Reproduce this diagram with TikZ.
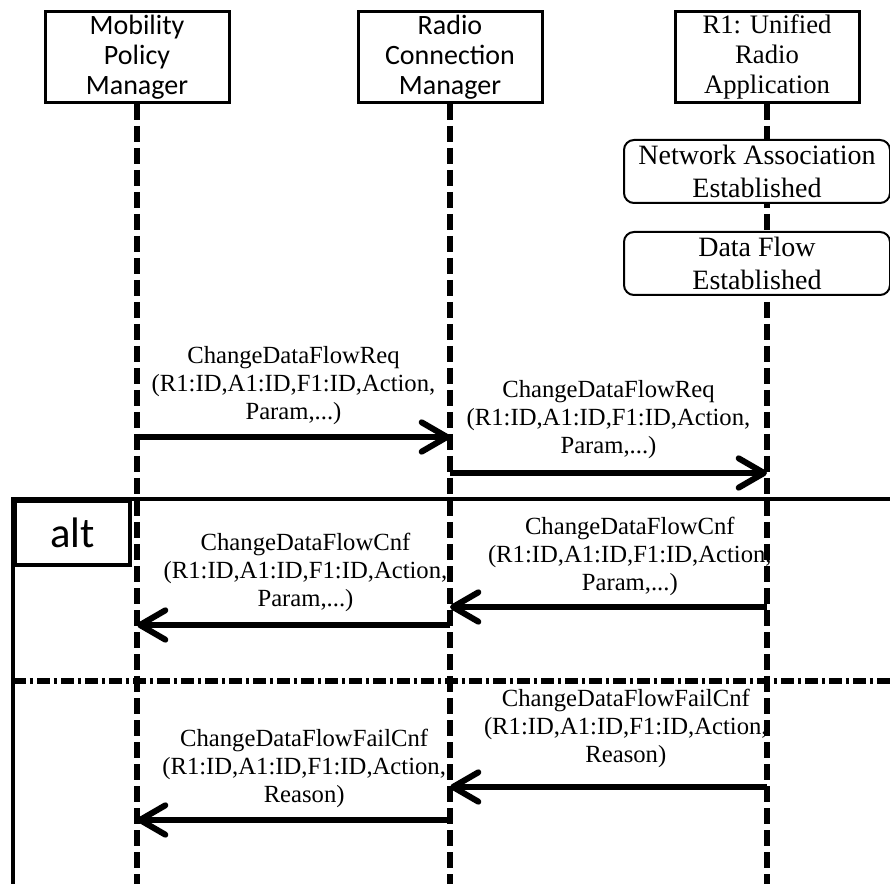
\documentclass[tikz,border=0pt]{standalone}
\usepackage{fontspec}
\setmainfont{Liberation Serif}
\newfontfamily\calfont{Carlito}
\usepackage{tikz}
\usetikzlibrary{arrows.meta,positioning,calc}
\tikzset{
  headbox/.style={draw,fill=white,line width=2.25pt,minimum width=138pt,minimum height=68.25pt,inner sep=0pt,align=center},
  statebox/.style={draw,fill=white,line width=1.5pt,rounded corners=7.5pt,minimum width=199.5pt,minimum height=47.25pt,inner sep=0pt,align=center,font=\fontsize{21pt}{24.5pt}\selectfont},
  lifeline/.style={line width=4.2pt,dash pattern=on 12pt off 4.5pt},
  msg/.style={line width=4.5pt,-{Straight Barb[length=19pt,width=22pt,round]}},
  msglabel/.style={align=center,inner sep=0pt,font=\fontsize{18.5pt}{21pt}\selectfont},
  altline/.style={line width=3pt},
  sepline/.style={line width=4.2pt,dash pattern=on 9.4pt off 3pt on 2.6pt off 3pt}
}

\begin{document}
\begin{tikzpicture}[x=0.75pt,y=-0.75pt]
  \useasboundingbox (0,0) rectangle (890,884);
  \clip (0,0) rectangle (890,884);
  % alt frame
  \coordinate (fr1) at (13,499);
  \coordinate (fr2) at (905,905);
  \coordinate (sep) at (0,681);
  \draw[altline] (fr1) rectangle (fr2);
  \draw[sepline] (fr1 |- sep) -- (fr2 |- sep);
  \node[draw,fill=white,altline,anchor=north west,minimum width=86.25pt,minimum height=48pt,inner sep=0pt,
    font=\calfont\fontsize{32pt}{34pt}\selectfont] (alt) at (fr1) {alt};
  % heads and lifelines
  \node[headbox,font=\calfont\fontsize{21pt}{22.5pt}\selectfont] (mpm) at (137,57) {Mobility\\Policy\\Manager};
  \node[headbox,font=\calfont\fontsize{21pt}{22.5pt}\selectfont] (rcm) at (450,57) {Radio\\Connection\\Manager};
  \node[headbox,font=\fontsize{20pt}{22.5pt}\selectfont] (ura) at (767,57) {R1: Unified\\Radio\\Application};
  \coordinate (bot) at (0,905);
  \foreach \n in {mpm,rcm,ura}
    \draw[lifeline] (\n.south) -- (\n.south |- bot);
  % states of R1
  \node[statebox] (assoc) at (757,171.5) {Network Association\\Established};
  \node[statebox] (flow) at (757,263.5) {Data Flow\\Established};
  % messages
  \coordinate (m1) at (0,437);
  \coordinate (m2) at (0,473);
  \coordinate (m3) at (0,607);
  \coordinate (m4) at (0,625);
  \coordinate (m5) at (0,787);
  \coordinate (m6) at (0,820);
  \draw[msg] (mpm |- m1) -- (rcm |- m1)
    node[msglabel,midway,above=7.3pt] (req1) {ChangeDataFlowReq\\(R1:ID,A1:ID,F1:ID,Action,\\Param,...)};
  \draw[msg] (rcm |- m2) -- (ura |- m2)
    node[msglabel,midway,above=8.8pt] (req2) {ChangeDataFlowReq\\(R1:ID,A1:ID,F1:ID,Action,\\Param,...)};
  \draw[msg] (ura |- m3) -- (rcm |- m3)
    node[msglabel,midway,above=6.5pt,xshift=16pt] (cnf1) {ChangeDataFlowCnf\\(R1:ID,A1:ID,F1:ID,Action,\\Param,...)};
  \draw[msg] (rcm |- m4) -- (mpm |- m4)
    node[msglabel,midway,above=8pt,xshift=9pt] (cnf2) {ChangeDataFlowCnf\\(R1:ID,A1:ID,F1:ID,Action,\\Param,...)};
  \draw[msg] (ura |- m5) -- (rcm |- m5)
    node[msglabel,midway,above=12.5pt,xshift=13pt] (fail1) {ChangeDataFlowFailCnf\\(R1:ID,A1:ID,F1:ID,Action,\\Reason)};
  \draw[msg] (rcm |- m6) -- (mpm |- m6)
    node[msglabel,midway,above=7.3pt,xshift=8pt] (fail2) {ChangeDataFlowFailCnf\\(R1:ID,A1:ID,F1:ID,Action,\\Reason)};
\end{tikzpicture}
\end{document}
